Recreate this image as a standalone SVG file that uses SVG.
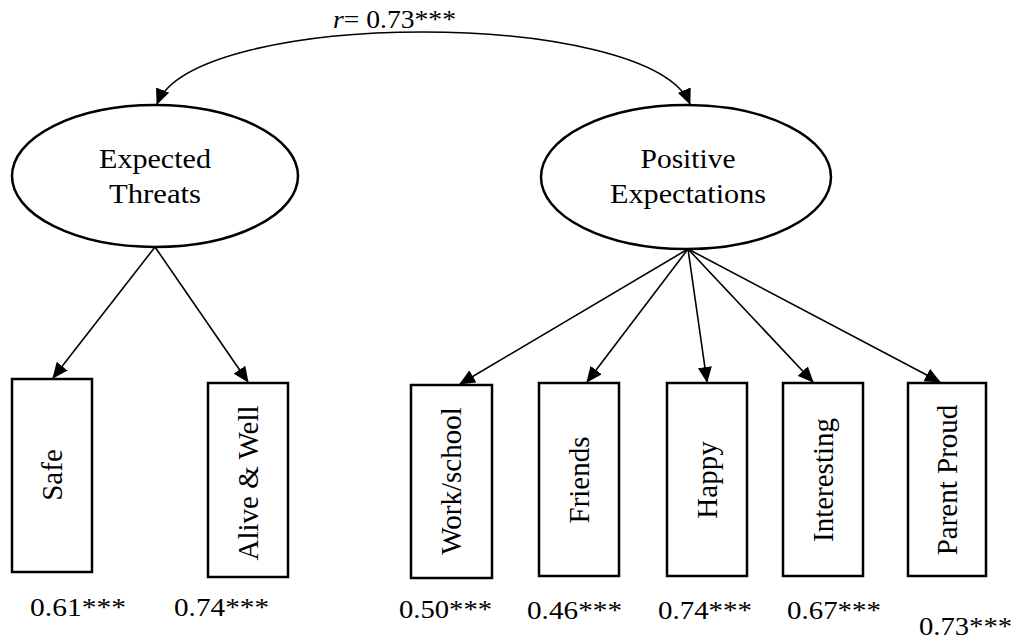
<svg xmlns="http://www.w3.org/2000/svg" width="1018" height="642" viewBox="0 0 1018 642">
<style>
text{font-family:"Liberation Serif","Times New Roman",serif;fill:#000}
.lat{fill:#fff;stroke:#000;stroke-width:2.5}
.box{fill:#fff;stroke:#000;stroke-width:2.5}
.lbl{font-size:27px;text-anchor:middle}
.obs{font-size:29px;text-anchor:middle}
.coef{font-size:26px}
.con{fill:none;stroke:#000;stroke-width:1.6}
</style>
<defs>
<marker id="ah" markerUnits="userSpaceOnUse" markerWidth="16" markerHeight="14" refX="15" refY="7" orient="auto-start-reverse" viewBox="0 0 16 14">
<path d="M0,0 L16,7 L0,14 z" fill="#000"/>
</marker>
</defs>
<rect width="1018" height="642" fill="#fff"/>
<g id="connectors">
<path class="con" d="M157,104 C195,8 650,8 690,104" marker-start="url(#ah)" marker-end="url(#ah)"/>
<line class="con" x1="155" y1="247" x2="53" y2="378" marker-end="url(#ah)"/>
<line class="con" x1="155" y1="247" x2="248" y2="382" marker-end="url(#ah)"/>
<line class="con" x1="688" y1="249" x2="460" y2="384" marker-end="url(#ah)"/>
<line class="con" x1="688" y1="249" x2="587" y2="382" marker-end="url(#ah)"/>
<line class="con" x1="688" y1="249" x2="707" y2="382" marker-end="url(#ah)"/>
<line class="con" x1="688" y1="249" x2="813" y2="382" marker-end="url(#ah)"/>
<line class="con" x1="688" y1="249" x2="940" y2="382" marker-end="url(#ah)"/>
<text x="333" y="28" font-size="26" textLength="123" lengthAdjust="spacingAndGlyphs"><tspan font-style="italic">r</tspan>= 0.73***</text>
</g>
<g id="expected-threats">
<ellipse class="lat" cx="155" cy="176" rx="143" ry="71"/>
<text class="lbl" x="155" y="168" textLength="112" lengthAdjust="spacingAndGlyphs">Expected</text>
<text class="lbl" x="155" y="203" textLength="92" lengthAdjust="spacingAndGlyphs">Threats</text>
</g>
<g id="positive-expectations">
<ellipse class="lat" cx="686" cy="177" rx="145" ry="72"/>
<text class="lbl" x="688" y="168" textLength="95" lengthAdjust="spacingAndGlyphs">Positive</text>
<text class="lbl" x="688" y="203" textLength="156" lengthAdjust="spacingAndGlyphs">Expectations</text>
</g>
<g id="safe">
<rect class="box" x="12" y="379" width="80" height="193"/>
<text class="obs" transform="translate(62,475) rotate(-90)">Safe</text>
</g>
<g id="alive-well">
<rect class="box" x="208" y="383" width="80" height="194"/>
<text class="obs" transform="translate(258,483) rotate(-90)">Alive &amp; Well</text>
</g>
<g id="work-school">
<rect class="box" x="411" y="385" width="81" height="193"/>
<text class="obs" transform="translate(461,481) rotate(-90)">Work/school</text>
</g>
<g id="friends">
<rect class="box" x="539" y="383" width="80" height="193"/>
<text class="obs" transform="translate(589,480) rotate(-90)">Friends</text>
</g>
<g id="happy">
<rect class="box" x="667" y="383" width="80" height="193"/>
<text class="obs" transform="translate(717,480) rotate(-90)">Happy</text>
</g>
<g id="interesting">
<rect class="box" x="783" y="383" width="80" height="193"/>
<text class="obs" transform="translate(833,480) rotate(-90)">Interesting</text>
</g>
<g id="parent-proud">
<rect class="box" x="908" y="383" width="78" height="193"/>
<text class="obs" transform="translate(957,480) rotate(-90)">Parent Proud</text>
</g>
<g id="coefficients">
<text class="coef" x="30" y="616" textLength="96" lengthAdjust="spacingAndGlyphs">0.61***</text>
<text class="coef" x="174" y="616" textLength="95" lengthAdjust="spacingAndGlyphs">0.74***</text>
<text class="coef" x="399" y="618" textLength="93" lengthAdjust="spacingAndGlyphs">0.50***</text>
<text class="coef" x="527" y="619" textLength="95" lengthAdjust="spacingAndGlyphs">0.46***</text>
<text class="coef" x="658" y="619" textLength="94" lengthAdjust="spacingAndGlyphs">0.74***</text>
<text class="coef" x="787" y="619" textLength="94" lengthAdjust="spacingAndGlyphs">0.67***</text>
<text class="coef" x="919" y="635" textLength="93" lengthAdjust="spacingAndGlyphs">0.73***</text>
</g>
</svg>
